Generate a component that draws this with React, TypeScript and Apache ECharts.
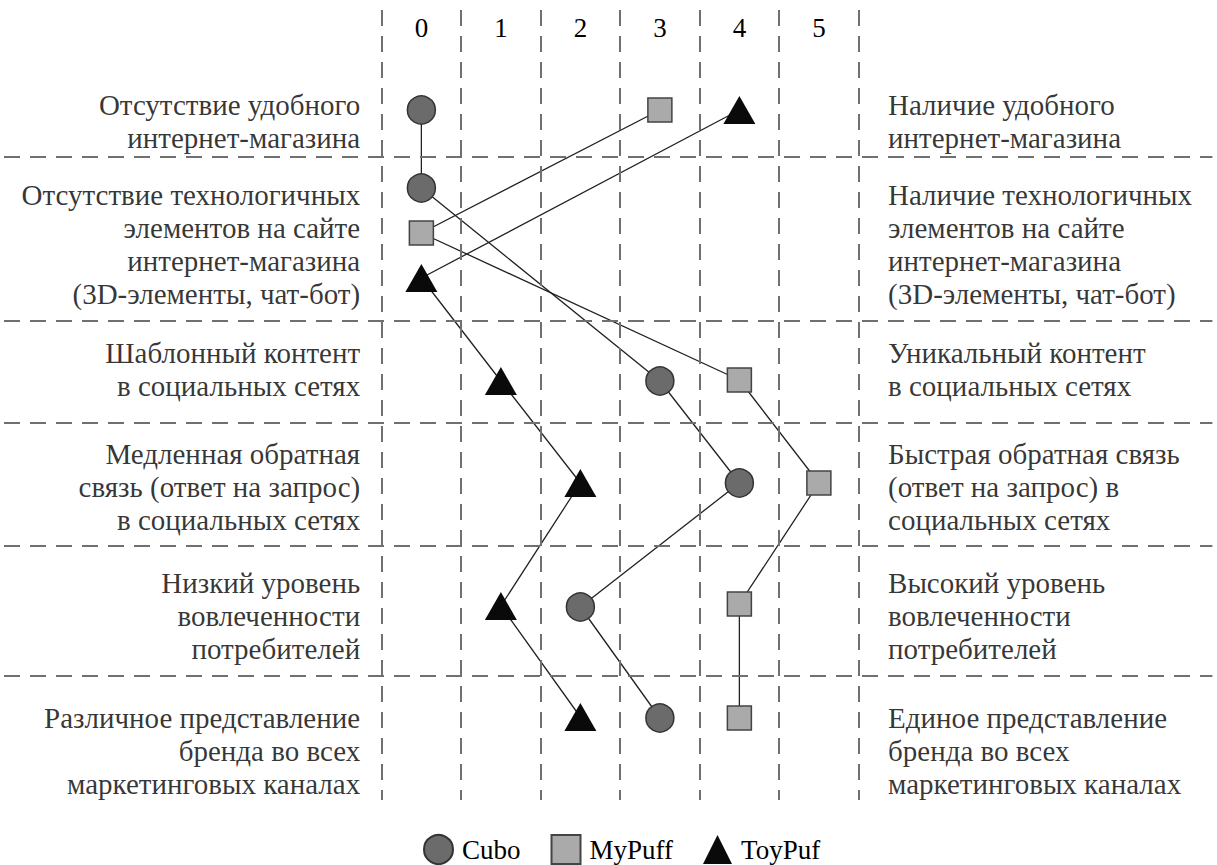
import { useEffect, useRef } from 'react';
import * as echarts from 'echarts';

// Score scale (top axis)
const scoreLabels = ['0', '1', '2', '3', '4', '5'];

// Series: score per criterion and vertical row position (y units, 0 = top of plot)
const cuboScores = [0, 0, 3, 4, 2, 3];
const cuboRows = [10, 17.8, 37.1, 47.3, 59.7, 70.8];
const myPuffScores = [3, 0, 4, 5, 4, 4];
const myPuffRows = [10, 22.3, 37.0, 47.3, 59.4, 70.8];
const toyPufScores = [4, 0, 1, 2, 1, 2];
const toyPufRows = [10, 26.8, 37.1, 47.3, 59.6, 70.7];

const leftLabels = [
  'Отсутствие удобного\nинтернет-магазина',
  'Отсутствие технологичных\nэлементов на сайте\nинтернет-магазина\n(3D-элементы, чат-бот)',
  'Шаблонный контент\nв социальных сетях',
  'Медленная обратная\nсвязь (ответ на запрос)\nв социальных сетях',
  'Низкий уровень\nвовлеченности\nпотребителей',
  'Различное представление\nбренда во всех\nмаркетинговых каналах',
];
const rightLabels = [
  'Наличие удобного\nинтернет-магазина',
  'Наличие технологичных\nэлементов на сайте\nинтернет-магазина\n(3D-элементы, чат-бот)',
  'Уникальный контент\nв социальных сетях',
  'Быстрая обратная связь\n(ответ на запрос) в\nсоциальных сетях',
  'Высокий уровень\nвовлеченности\nпотребителей',
  'Единое представление\nбренда во всех\nмаркетинговых каналах',
];
const labelRows = [11.1, 23.45, 35.95, 47.7, 60.55, 74.05];
const rowDividers = [14.7, 31.1, 41.3, 53.6, 66.6];
const scoreDividers = [-0.5, 0.5, 1.5, 2.5, 3.5, 4.5, 5.5];

const FONT = 'Liberation Serif';
const LEFT_TEXT_X = -0.77;
const RIGHT_TEXT_X = 5.87;

export default function App() {
  const ref = useRef<HTMLDivElement>(null);

  useEffect(() => {
    if (!ref.current) return;
    const chart = echarts.init(ref.current, undefined, { renderer: 'svg' });

    const pairs = (xs: number[], ys: number[]) => xs.map((x, i) => [x, ys[i]]);
    const lineStyle = { color: '#222', width: 1.3 };
    const dash = { type: [16, 10] as any, color: '#707070', width: 2 };

    const textData = [
      ...leftLabels.map((t, i) => ({
        value: [LEFT_TEXT_X, labelRows[i]],
        text: t,
        label: { align: 'right' },
      })),
      ...rightLabels.map((t, i) => ({
        value: [RIGHT_TEXT_X, labelRows[i]],
        text: t,
        label: { align: 'left' },
      })),
    ];

    chart.setOption({
      animation: false,
      backgroundColor: '#fff',
      textStyle: { fontFamily: FONT },
      grid: { left: 4, top: 10, width: 1208.4, height: 790, containLabel: false },
      xAxis: {
        type: 'value',
        position: 'top',
        min: -5.25,
        max: 9.95,
        interval: 0.25,
        axisLine: { show: false },
        axisTick: { show: false },
        splitLine: { show: false },
        axisLabel: {
          inside: true,
          margin: 4,
          fontFamily: FONT,
          fontSize: 27,
          color: '#000',
          showMinLabel: true,
          showMaxLabel: false,
          formatter: (v: number) =>
            Number.isInteger(v) && v >= 0 && v < scoreLabels.length ? scoreLabels[v] : '',
        },
      },
      yAxis: { type: 'value', min: 0, max: 79, inverse: true, show: false },
      legend: {
        left: 418,
        top: 829,
        itemWidth: 29,
        itemHeight: 29,
        itemGap: 30,
        textStyle: { fontFamily: FONT, fontSize: 27, color: '#000', padding: [0, 0, 0, 4] },
        data: [
          { name: 'Cubo', icon: 'circle' },
          { name: 'MyPuff', icon: 'rect' },
          { name: 'ToyPuf', icon: 'triangle' },
        ],
        selectedMode: false,
      },
      series: [
        {
          name: 'labels',
          type: 'scatter',
          z: 1,
          silent: true,
          symbolSize: 0,
          data: textData,
          label: {
            show: true,
            position: [0, 0],
            fontFamily: FONT,
            fontSize: 29,
            lineHeight: 33,
            color: '#000',
            verticalAlign: 'middle',
            formatter: (p: any) => p.data.text,
          },
          markLine: {
            silent: true,
            symbol: ['none', 'none'],
            label: { show: false },
            lineStyle: dash,
            data: [
              ...scoreDividers.map((v) => ({ xAxis: v })),
              ...rowDividers.map((v) => ({ yAxis: v })),
            ],
          },
        },
        {
          name: 'Cubo',
          type: 'line',
          z: 3,
          data: pairs(cuboScores, cuboRows),
          symbol: 'circle',
          symbolSize: 28,
          lineStyle,
          itemStyle: { color: '#6b6b6b', borderColor: '#333', borderWidth: 1.5 },
        },
        {
          name: 'MyPuff',
          type: 'line',
          z: 3,
          data: pairs(myPuffScores, myPuffRows),
          symbol: 'rect',
          symbolSize: 24,
          lineStyle,
          itemStyle: { color: '#aaaaaa', borderColor: '#444', borderWidth: 1.5 },
        },
        {
          name: 'ToyPuf',
          type: 'line',
          z: 3,
          data: pairs(toyPufScores, toyPufRows),
          symbol: 'triangle',
          symbolSize: [32, 28],
          lineStyle,
          itemStyle: { color: '#0a0a0a', borderColor: '#0a0a0a', borderWidth: 0 },
        },
      ],
    });

    return () => chart.dispose();
  }, []);

  return (
    <div
      ref={ref}
      style={{ position: 'absolute', left: 0, top: 0, width: 1217, height: 865 }}
    />
  );
}
